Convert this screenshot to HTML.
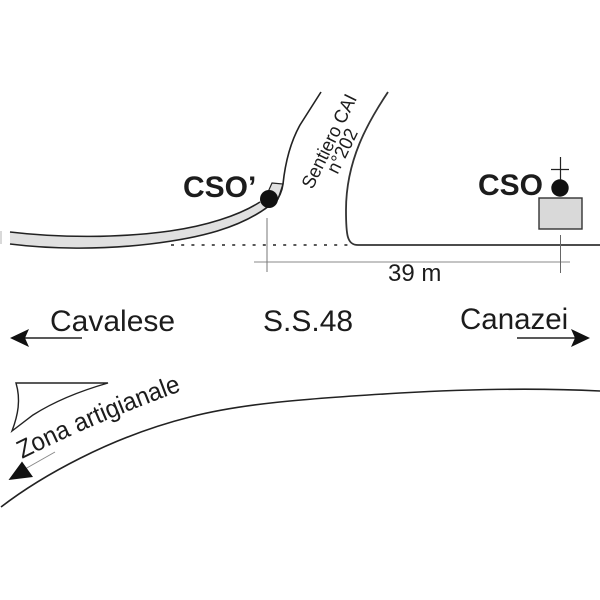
<!DOCTYPE html>
<html><head><meta charset="utf-8"><style>
html,body{margin:0;padding:0;background:#fff}
svg{display:block;filter:blur(.35px)}
text{font-family:"Liberation Sans",Arial,sans-serif;fill:#1c1c1c}
</style></head><body>
<svg width="600" height="600" viewBox="0 0 600 600" xmlns="http://www.w3.org/2000/svg">
<rect width="600" height="600" fill="#fff"/>
<!-- road band -->
<path d="M10 232 C60 238 120 238 170 231 C205 226 238 216 260 202 L269 206 C240 228 200 238 150 244 C100 250 50 249 10 244Z" fill="#e0e0e0"/>
<path d="M10 232 C60 238 120 238 170 231 C205 226 238 216 260 202" fill="none" stroke="#222" stroke-width="1.6"/>
<path d="M10 244 C50 249 100 250 150 244 C200 238 240 228 269 206" fill="none" stroke="#222" stroke-width="1.6"/>
<path d="M1 231V244" stroke="#ccc" stroke-width="1.5"/>
<!-- small stub -->
<path d="M272 183 L283 184 L278 199 L268 192Z" fill="#e0e0e0" stroke="#222" stroke-width="1.2"/>
<!-- left path -->
<path d="M321 92 L300 125 C290 143 285 165 283 184 C282 192 279 198 274 205" fill="none" stroke="#222" stroke-width="1.6"/>
<!-- right path -->
<path d="M388 92 C368 122 346 160 346 210 C346 235 347 245 358 245 L600 245" fill="none" stroke="#333" stroke-width="1.8"/>
<!-- dotted -->
<path d="M171 245 H350" stroke="#222" stroke-width="1.6" stroke-dasharray="3 7.2"/>
<!-- dimensions -->
<path d="M254 262 H570" stroke="#888" stroke-width="1"/>
<path d="M267 218 V272" stroke="#777" stroke-width="1"/>
<path d="M560.500 235 V273" stroke="#666" stroke-width="1"/>
<circle cx="269" cy="199" r="9" fill="#111"/>
<!-- CSO building -->
<rect x="539" y="198" width="43" height="31" fill="#d9d9d9" stroke="#333" stroke-width="1.4"/>
<circle cx="560" cy="188" r="8.700" fill="#111"/>
<path d="M560.500 157 V180 M551 169.500 H569" stroke="#222" stroke-width="1.2" fill="none"/>
<!-- labels -->
<text x="183" y="197" font-size="30" font-weight="bold">CSO’</text>
<text x="478" y="195" font-size="30" font-weight="bold">CSO</text>
<text x="388" y="281" font-size="24">39 m</text>
<text x="50" y="331" font-size="30">Cavalese</text>
<text x="263" y="331" font-size="30">S.S.48</text>
<text x="460" y="329" font-size="29.500">Canazei</text>
<text transform="translate(312.500,190) rotate(-64) scale(.95,1)" font-size="19">Sentiero CAI</text>
<text transform="translate(337.500,175) rotate(-64) scale(.95,1)" font-size="19">n°202</text>
<!-- arrows -->
<path d="M25 338 H82" stroke="#222" stroke-width="1.5"/>
<path d="M10 338 L29 329 L25 338 L29 347Z" fill="#111"/>
<path d="M517 338 H576" stroke="#222" stroke-width="1.5"/>
<path d="M590 338 L571 329 L575 338 L571 347Z" fill="#111"/>
<!-- triangle -->
<path d="M16 383 H108 C80 391 55 401 33 415 L12 431 C18 415 21 400 16 383Z" fill="#fff" stroke="#222" stroke-width="1.4"/>
<!-- large curve -->
<path d="M1 507 C40 477 110 437 190 417 C240 404 300 399 400 393 C470 389 540 388 600 391" fill="none" stroke="#222" stroke-width="1.6"/>
<!-- zona text -->
<defs><path id="z" d="M0 0 Q92 -5.500 190 0"/></defs>
<text font-size="25.500" transform="translate(22,459) rotate(-23) scale(.95,1)"><textPath href="#z">Zona artigianale</textPath></text>
<path d="M25 469 L55 452" stroke="#888" stroke-width="1"/>
<path d="M8.500 480 L22 461.500 L33 477Z" fill="#111"/>
</svg>
</body></html>
